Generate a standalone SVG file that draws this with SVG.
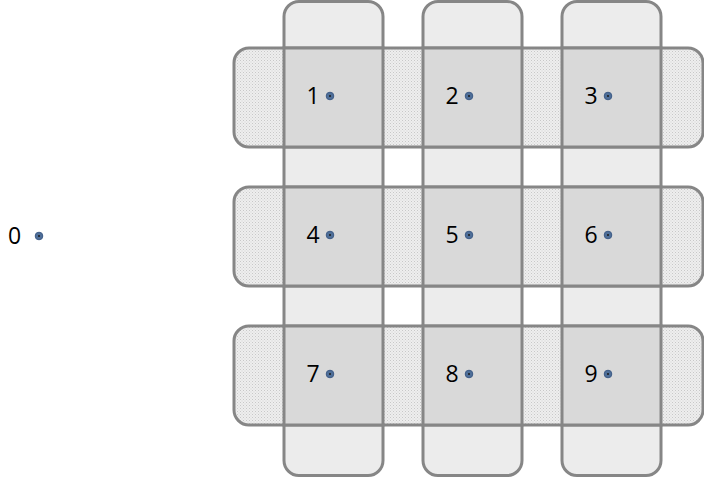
<svg xmlns="http://www.w3.org/2000/svg" width="704" height="482" viewBox="0 0 704 482">
<defs>
<pattern id="dots" width="3" height="3" patternUnits="userSpaceOnUse">
<rect width="3" height="3" fill="#eeeeee"/>
<rect x="0" y="0" width="1" height="1" fill="#c8c8c8"/>
<rect x="1.5" y="1.5" width="1" height="1" fill="#d4d4d4"/>
</pattern>
<style>
.vbar{fill:#ececec;stroke:#868686;stroke-width:3}
.hbar{fill:url(#dots);stroke:#868686;stroke-width:3}
.cell{fill:#d9d9d9;stroke:#868686;stroke-width:3}
.lbl{font-family:"Open Sans","Liberation Sans",sans-serif;font-size:23px;fill:#000}
.dot{fill:#4f6f99;stroke:#3c5a85;stroke-width:1}
.ctr{fill:#1a1a1a}
</style>
</defs>
<g id="columns">
<rect class="vbar" x="284" y="1.5" width="99" height="474" rx="15"/>
<rect class="vbar" x="423" y="1.5" width="99" height="474" rx="15"/>
<rect class="vbar" x="562" y="1.5" width="99" height="474" rx="15"/>
</g>
<g id="rows">
<rect class="hbar" x="234" y="48" width="469" height="99" rx="15"/>
<rect class="hbar" x="234" y="187" width="469" height="99" rx="15"/>
<rect class="hbar" x="234" y="326" width="469" height="99" rx="15"/>
</g>
<g id="node0"><text class="lbl" x="8" y="244">0</text><circle class="dot" cx="39" cy="236" r="3.8"/><circle class="ctr" cx="39" cy="236" r="1"/></g>
<g id="node1"><rect class="cell" x="284" y="48" width="99" height="99"/><text class="lbl" x="306.5" y="104">1</text><circle class="dot" cx="330" cy="96" r="3.8"/><circle class="ctr" cx="330" cy="96" r="1"/></g>
<g id="node2"><rect class="cell" x="423" y="48" width="99" height="99"/><text class="lbl" x="445.5" y="104">2</text><circle class="dot" cx="469" cy="96" r="3.8"/><circle class="ctr" cx="469" cy="96" r="1"/></g>
<g id="node3"><rect class="cell" x="562" y="48" width="99" height="99"/><text class="lbl" x="584.5" y="104">3</text><circle class="dot" cx="608" cy="96" r="3.8"/><circle class="ctr" cx="608" cy="96" r="1"/></g>
<g id="node4"><rect class="cell" x="284" y="187" width="99" height="99"/><text class="lbl" x="306.5" y="243">4</text><circle class="dot" cx="330" cy="235" r="3.8"/><circle class="ctr" cx="330" cy="235" r="1"/></g>
<g id="node5"><rect class="cell" x="423" y="187" width="99" height="99"/><text class="lbl" x="445.5" y="243">5</text><circle class="dot" cx="469" cy="235" r="3.8"/><circle class="ctr" cx="469" cy="235" r="1"/></g>
<g id="node6"><rect class="cell" x="562" y="187" width="99" height="99"/><text class="lbl" x="584.5" y="243">6</text><circle class="dot" cx="608" cy="235" r="3.8"/><circle class="ctr" cx="608" cy="235" r="1"/></g>
<g id="node7"><rect class="cell" x="284" y="326" width="99" height="99"/><text class="lbl" x="306.5" y="382">7</text><circle class="dot" cx="330" cy="374" r="3.8"/><circle class="ctr" cx="330" cy="374" r="1"/></g>
<g id="node8"><rect class="cell" x="423" y="326" width="99" height="99"/><text class="lbl" x="445.5" y="382">8</text><circle class="dot" cx="469" cy="374" r="3.8"/><circle class="ctr" cx="469" cy="374" r="1"/></g>
<g id="node9"><rect class="cell" x="562" y="326" width="99" height="99"/><text class="lbl" x="584.5" y="382">9</text><circle class="dot" cx="608" cy="374" r="3.8"/><circle class="ctr" cx="608" cy="374" r="1"/></g>
<g id="connectors"/>
</svg>
